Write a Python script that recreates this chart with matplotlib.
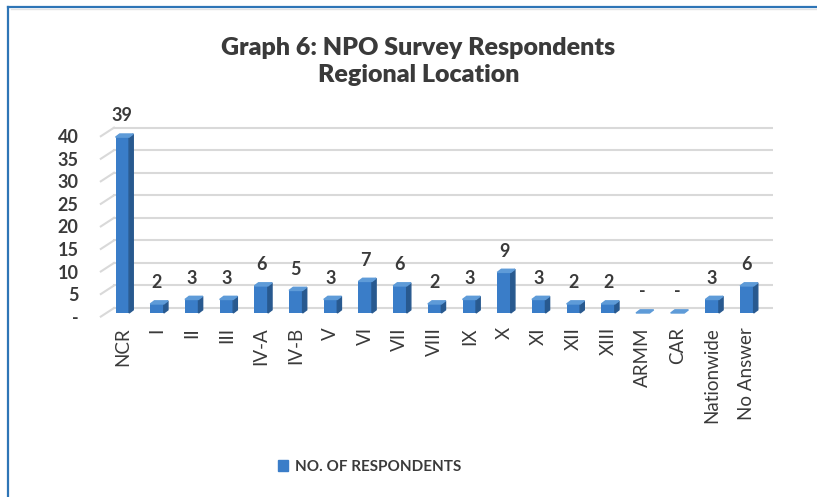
import matplotlib

matplotlib.use("Agg")
import matplotlib.pyplot as plt
from matplotlib.patches import Polygon, Patch
from matplotlib.lines import Line2D

plt.rcParams['font.family'] = ['Lato', 'DejaVu Sans']

regions = ['NCR', 'I', 'II', 'III', 'IV-A', 'IV-B', 'V', 'VI', 'VII', 'VIII',
           'IX', 'X', 'XI', 'XII', 'XIII', 'ARMM', 'CAR', 'Nationwide', 'No Answer']
respondents = [39, 2, 3, 3, 6, 5, 3, 7, 6, 2, 3, 9, 3, 2, 2, 0, 0, 3, 6]
y_ticks = [0, 5, 10, 15, 20, 25, 30, 35, 40]
y_tick_labels = ['-', '5', '10', '15', '20', '25', '30', '35', '40']

front = '#3A7DC8'
side = '#28598F'
top = '#5E9BD8'
grid = '#D9D9D9'
txt = '#3A3A3A'

# fake 3d offsets (data units)
dx, dy = 0.12, 0.7
back, low = 1.1, -0.8

fig = plt.figure(figsize=(8.17, 4.97), dpi=100)
ax = fig.add_axes([0.120, 0.3557, 0.826, 0.3956])
ax.set_xlim(-0.7, 18.75)
ax.set_ylim(-1.6, 42)

for v in y_ticks:
    ax.plot([-0.62, -0.24], [v + low, v + back], color=grid, lw=1.5, zorder=1)
    ax.plot([-0.24, 18.75], [v + back, v + back], color=grid, lw=1.5, zorder=1)

w = 0.39
for i, v in enumerate(respondents):
    x0, x1 = i - w / 2, i + w / 2
    if v > 0:
        ax.bar(i, v, width=w, color=front, zorder=3)
        ax.add_patch(Polygon([(x1, 0), (x1 + dx, dy), (x1 + dx, v + dy), (x1, v)],
                             closed=True, color=side, zorder=3))
    ax.add_patch(Polygon([(x0, v), (x0 + dx, v + dy), (x1 + dx, v + dy), (x1, v)],
                         closed=True, color=top, zorder=3))
    lab = str(v) if v > 0 else '-'
    ax.annotate(lab, (i, v + dy), xytext=(0, 7), textcoords='offset points',
                ha='center', va='bottom', fontsize=13, fontweight='bold', color=txt)

ax.set_yticks([v + low for v in y_ticks], y_tick_labels)
ax.set_xticks(range(len(regions)), regions, rotation=90)
ax.tick_params(axis='y', length=0, pad=14, labelsize=13, labelcolor=txt)
ax.tick_params(axis='x', length=0, pad=5, labelsize=13.5, labelcolor=txt)
for t in ax.get_yticklabels():
    t.set_fontweight('bold')
for s in ax.spines.values():
    s.set_visible(False)

fig.text(0.512, 0.876, 'Graph 6: NPO Survey Respondents\nRegional Location',
         ha='center', va='center', fontsize=18, fontweight='heavy', color=txt,
         linespacing=1.25)

fig.legend(handles=[Patch(color=front, label='NO. OF RESPONDENTS')], loc='center',
           bbox_to_anchor=(0.452, 0.06), frameon=False, handlelength=0.7,
           handleheight=0.7, handletextpad=0.4, prop={'size': 11, 'weight': 'bold'},
           labelcolor=txt)

# outer frame (left and top edges)
fig.add_artist(Line2D([0.0098, 0.0098], [0, 0.986], color='#2E75B6', lw=1.6))
fig.add_artist(Line2D([0.0098, 1], [0.986, 0.986], color='#2E75B6', lw=1.6))
fig.add_artist(Line2D([0.0135, 1], [0.981, 0.981], color='#E3E3E3', lw=1))

fig.savefig('out.png', dpi=100)
